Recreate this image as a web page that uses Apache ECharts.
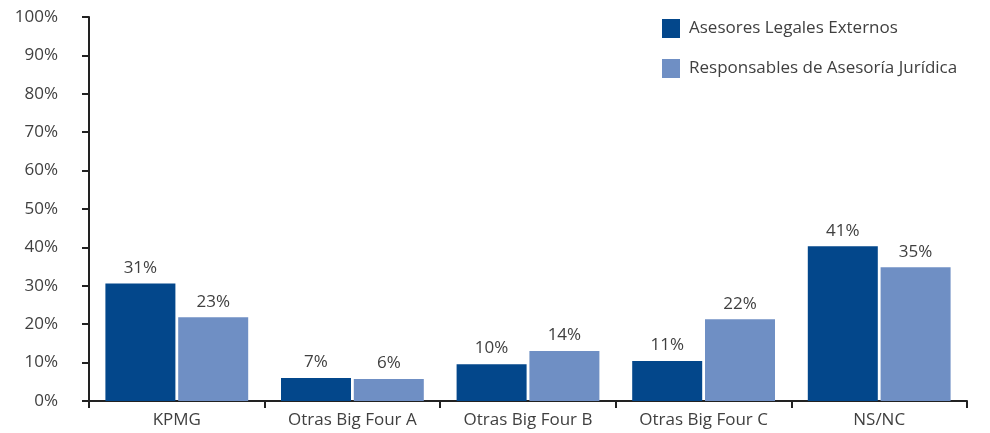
<!DOCTYPE html>
<html><head><meta charset="utf-8">
<script src="https://cdn.jsdelivr.net/npm/echarts@6/dist/echarts.min.js"></script>
<style>html,body{margin:0;padding:0;background:#fff}#c{width:990px;height:433px}</style>
</head><body><div id="c"></div>
<script>
const categories = ['KPMG', 'Otras Big Four A', 'Otras Big Four B', 'Otras Big Four C', 'NS/NC'];
const seriesNames = ['Asesores Legales Externos', 'Responsables de Asesoría Jurídica'];
const externos = [30.6, 6.0, 9.6, 10.4, 40.3];
const responsables = [21.8, 5.7, 13.0, 21.3, 34.8];
const externosLabels = ['31%', '7%', '10%', '11%', '41%'];
const responsablesLabels = ['23%', '6%', '14%', '22%', '35%'];
const yTicks = [0, 10, 20, 30, 40, 50, 60, 70, 80, 90, 100];

const font = 'Open Sans';
const txt = '#404040';
const fs = 17;
const chart = echarts.init(document.getElementById('c'), null, {renderer: 'canvas'});
function mkLabel(arr){
  return {show: true, position: 'top', distance: 7, color: txt, fontFamily: font, fontSize: fs,
    formatter: p => arr[p.dataIndex]};
}
chart.setOption({
  animation: false,
  grid: {left: 89, right: 23, top: 17, bottom: 32, containLabel: false},
  legend: {
    orient: 'vertical', left: 657, top: 14, itemWidth: 18, itemHeight: 19, itemGap: 21, icon: 'rect',
    textStyle: {color: txt, fontFamily: font, fontSize: fs, padding: [0,0,0,4]},
    data: seriesNames
  },
  xAxis: {
    type: 'category', data: categories,
    axisLine: {lineStyle: {color: '#222', width: 2}},
    axisTick: {show: true, length: 7, lineStyle: {color: '#222', width: 2}},
    axisLabel: {color: txt, fontFamily: font, fontSize: fs, margin: 11}
  },
  yAxis: {
    type: 'value', min: yTicks[0], max: yTicks[yTicks.length-1], interval: 10,
    axisLine: {show: true, lineStyle: {color: '#222', width: 2}},
    axisTick: {show: true, length: 7, lineStyle: {color: '#222', width: 2}},
    splitLine: {show: false},
    axisLabel: {color: txt, fontFamily: font, fontSize: fs, margin: 31, formatter: v => v + '%'}
  },
  series: [
    {name: seriesNames[0], type: 'bar', data: externos, barWidth: 70, barGap: '4%',
     itemStyle: {color: '#03478b'}, label: mkLabel(externosLabels)},
    {name: seriesNames[1], type: 'bar', data: responsables, barWidth: 70,
     itemStyle: {color: '#6f8fc4'}, label: mkLabel(responsablesLabels)}
  ]
});
</script></body></html>
